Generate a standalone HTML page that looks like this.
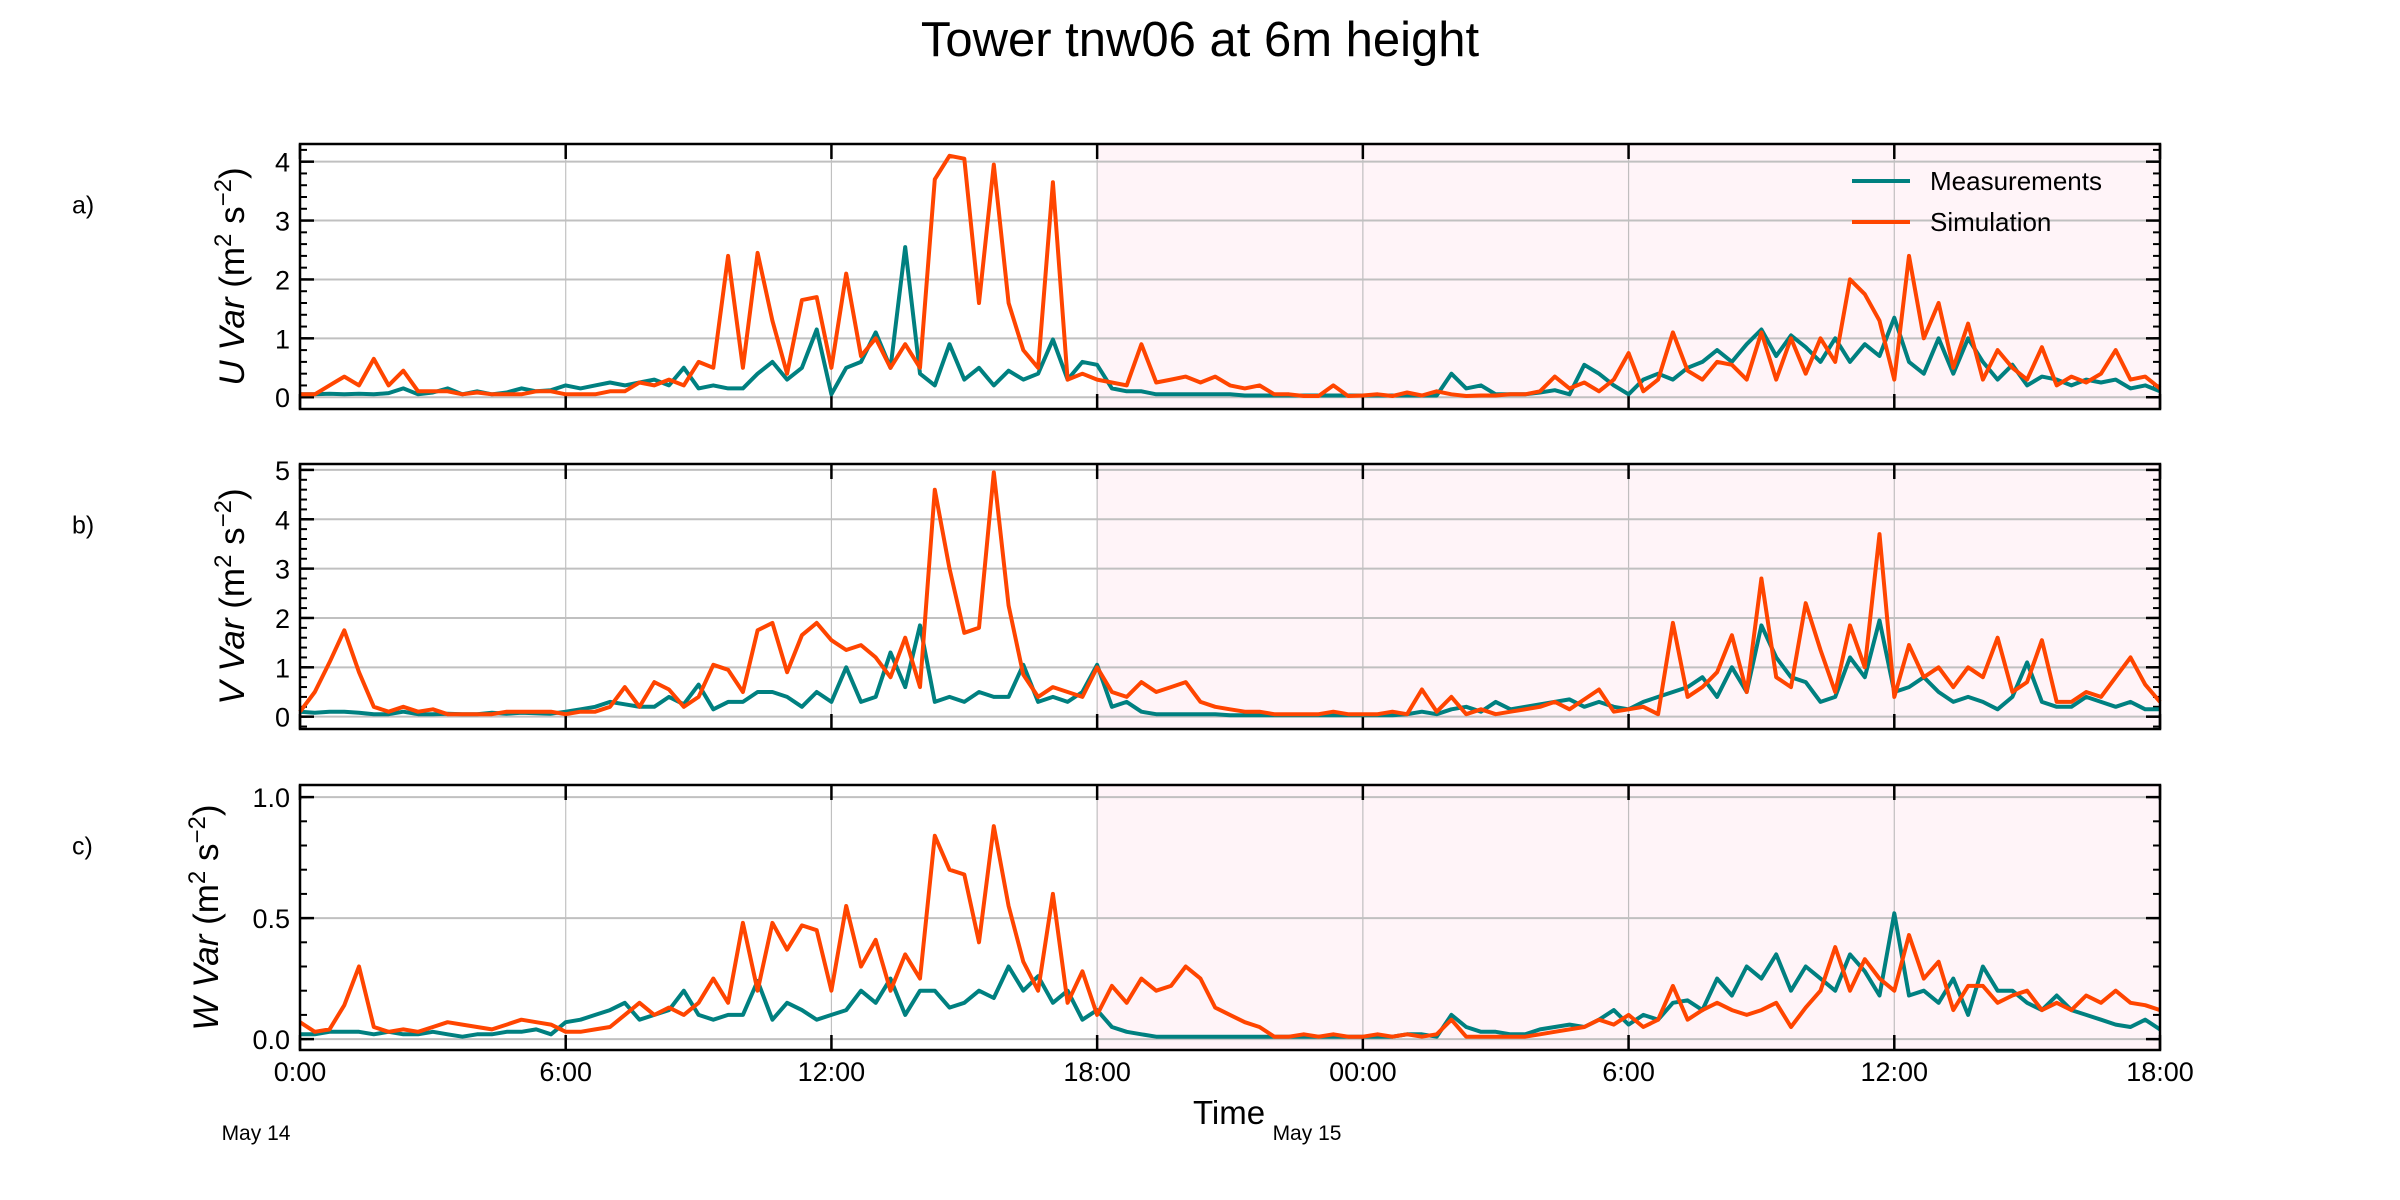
<!DOCTYPE html>
<html><head><meta charset="utf-8"><style>
html,body{margin:0;padding:0;background:#fff}
svg{display:block;font-family:"Liberation Sans","DejaVu Sans",sans-serif}
</style></head><body>
<svg id="chart" width="2400" height="1200" viewBox="0 0 2400 1200" xmlns="http://www.w3.org/2000/svg">
<text x="1200" y="56" font-size="49" text-anchor="middle" fill="#000">Tower tnw06 at 6m height</text>
<g id="plots"></g>
</svg>
<script>
const xTickLabels=["0:00","6:00","12:00","18:00","00:00","6:00","12:00","18:00"];
const xTickHours=[0,6,12,18,24,30,36,42];
const shadeStart=18, shadeEnd=42;
const stepHours=1/3;
const uMeas=[.05,.05,.06,.05,.06,.05,.07,.15,.05,.08,.15,.05,.1,.05,.08,.15,.1,.12,.2,.15,.2,.25,.2,.25,.3,.2,.5,.15,.2,.15,.15,.4,.6,.3,.5,1.15,.05,.5,.6,1.1,.5,2.55,.4,.2,.9,.3,.5,.2,.45,.3,.4,.98,.3,.6,.55,.15,.1,.1,.05,.05,.05,.05,.05,.05,.03,.03,.03,.03,.03,.03,.03,.03,.03,.03,.03,.03,.03,.03,.4,.15,.2,.05,.05,.05,.08,.12,.05,.55,.4,.2,.05,.3,.4,.3,.5,.6,.8,.6,.9,1.15,.7,1.05,.85,.6,1.0,.6,.9,.7,1.35,.6,.4,1.0,.4,1.0,.6,.3,.55,.2,.35,.3,.2,.3,.25,.3,.15,.2,.1];
const uSim=[.05,.05,.2,.35,.2,.65,.2,.45,.1,.1,.1,.05,.08,.05,.05,.05,.1,.1,.05,.05,.05,.1,.1,.25,.2,.3,.2,.6,.5,2.4,.5,2.45,1.3,.4,1.65,1.7,.5,2.1,.7,1.0,.5,.9,.5,3.7,4.1,4.05,1.6,3.95,1.6,.8,.5,3.65,.3,.4,.3,.25,.2,.9,.25,.3,.35,.25,.35,.2,.15,.2,.05,.05,.02,.02,.2,.02,.03,.05,.02,.08,.03,.1,.05,.02,.03,.03,.05,.05,.1,.35,.15,.25,.1,.3,.75,.1,.3,1.1,.45,.3,.6,.55,.3,1.1,.3,1.0,.4,1.0,.6,2.0,1.75,1.3,.3,2.4,1.0,1.6,.5,1.25,.3,.8,.5,.3,.85,.2,.35,.25,.4,.8,.3,.35,.15];
const vMeas=[.1,.08,.1,.1,.08,.05,.05,.1,.05,.05,.06,.05,.05,.08,.06,.08,.07,.06,.1,.15,.2,.3,.25,.2,.2,.4,.25,.65,.15,.3,.3,.5,.5,.4,.2,.5,.3,1.0,.3,.4,1.3,.6,1.85,.3,.4,.3,.5,.4,.4,1.05,.3,.4,.3,.5,1.05,.2,.3,.1,.05,.05,.05,.05,.05,.03,.03,.03,.03,.03,.03,.03,.03,.03,.03,.03,.03,.05,.1,.05,.15,.2,.1,.3,.15,.2,.25,.3,.35,.2,.3,.2,.15,.3,.4,.5,.6,.8,.4,1.0,.5,1.85,1.2,.8,.7,.3,.4,1.2,.8,1.95,.5,.6,.8,.5,.3,.4,.3,.15,.4,1.1,.3,.2,.2,.4,.3,.2,.3,.15,.15];
const vSim=[.1,.5,1.1,1.75,.9,.2,.1,.2,.1,.15,.05,.05,.05,.05,.1,.1,.1,.1,.05,.1,.1,.2,.6,.2,.7,.55,.2,.4,1.05,.95,.5,1.75,1.9,.9,1.65,1.9,1.55,1.35,1.45,1.2,.8,1.6,.6,4.6,3.0,1.7,1.8,4.95,2.25,.85,.4,.6,.5,.4,1.0,.5,.4,.7,.5,.6,.7,.3,.2,.15,.1,.1,.05,.05,.05,.05,.1,.05,.05,.05,.1,.05,.55,.1,.4,.05,.15,.05,.1,.15,.2,.3,.15,.35,.55,.1,.15,.2,.05,1.9,.4,.6,.9,1.65,.5,2.8,.8,.6,2.3,1.35,.5,1.85,1.0,3.7,.4,1.45,.8,1.0,.6,1.0,.8,1.6,.5,.7,1.55,.3,.3,.5,.4,.8,1.2,.65,.3];
const wMeas=[.02,.02,.03,.03,.03,.02,.03,.02,.02,.03,.02,.01,.02,.02,.03,.03,.04,.02,.07,.08,.1,.12,.15,.08,.1,.12,.2,.1,.08,.1,.1,.24,.08,.15,.12,.08,.1,.12,.2,.15,.25,.1,.2,.2,.13,.15,.2,.17,.3,.2,.26,.15,.2,.08,.12,.05,.03,.02,.01,.01,.01,.01,.01,.01,.01,.01,.01,.01,.01,.01,.01,.01,.01,.01,.01,.02,.02,.01,.1,.05,.03,.03,.02,.02,.04,.05,.06,.05,.08,.12,.06,.1,.08,.15,.16,.12,.25,.18,.3,.25,.35,.2,.3,.25,.2,.35,.28,.18,.52,.18,.2,.15,.25,.1,.3,.2,.2,.15,.12,.18,.12,.1,.08,.06,.05,.08,.04];
const wSim=[.07,.03,.04,.14,.3,.05,.03,.04,.03,.05,.07,.06,.05,.04,.06,.08,.07,.06,.03,.03,.04,.05,.1,.15,.1,.13,.1,.15,.25,.15,.48,.2,.48,.37,.47,.45,.2,.55,.3,.41,.2,.35,.25,.84,.7,.68,.4,.88,.55,.32,.2,.6,.15,.28,.1,.22,.15,.25,.2,.22,.3,.25,.13,.1,.07,.05,.01,.01,.02,.01,.02,.01,.01,.02,.01,.02,.01,.02,.08,.01,.01,.01,.01,.01,.02,.03,.04,.05,.08,.06,.1,.05,.08,.22,.08,.12,.15,.12,.1,.12,.15,.05,.13,.2,.38,.2,.33,.25,.2,.43,.25,.32,.12,.22,.22,.15,.18,.2,.12,.15,.12,.18,.15,.2,.15,.14,.12];
const uTicks=[0,1,2,3,4], vTicks=[0,1,2,3,4,5], wTicks=[0,0.5,1.0];
const wTickLabels=["0.0","0.5","1.0"];

const NS="http://www.w3.org/2000/svg";
const root=document.getElementById('plots');
const X0=300,X1=2160;
function xs(h){return X0+(h/42)*(X1-X0);}
function mk(tag,attrs,parent){const e=document.createElementNS(NS,tag);for(const k in attrs)e.setAttribute(k,attrs[k]);(parent||root).appendChild(e);return e;}

const panels=[
 {id:'u',letter:'a)',top:144,bot:409,ymin:-0.2,ymax:4.3,ticks:uTicks,labels:uTicks.map(String),minor:0.2,meas:uMeas,sim:uSim,lab:'U Var',legend:true,labx:244},
 {id:'v',letter:'b)',top:464,bot:729,ymin:-0.25,ymax:5.12,ticks:vTicks,labels:vTicks.map(String),minor:0.2,meas:vMeas,sim:vSim,lab:'V Var',legend:false,labx:244},
 {id:'w',letter:'c)',top:785,bot:1050,ymin:-0.045,ymax:1.05,ticks:wTicks,labels:wTickLabels,minor:0.1,meas:wMeas,sim:wSim,lab:'W Var',legend:false,labx:218}
];
panels.forEach(p=>{
 const g=mk('g',{});
 
 
 const ys=v=>p.bot-(v-p.ymin)/(p.ymax-p.ymin)*(p.bot-p.top);
 const sh=mk('rect',{x:xs(shadeStart),y:p.top,width:xs(shadeEnd)-xs(shadeStart),height:p.bot-p.top,fill:'#fff4f8'},g);
 
 
 xTickHours.forEach(h=>{const l=mk('line',{x1:xs(h),x2:xs(h),y1:p.top,y2:p.bot,stroke:'#b0b0b0','stroke-width':1.2,'stroke-opacity':0.8},g);
  
  });
 p.ticks.forEach((t,i)=>{const y=ys(t);
  const l=mk('line',{x1:X0,x2:X1,y1:y,y2:y,stroke:'#c0c0c0','stroke-width':2},g);
  
  
  mk('line',{x1:X0,x2:X0+14,y1:y,y2:y,stroke:'#000','stroke-width':2.5},g);
  mk('line',{x1:X1,x2:X1-14,y1:y,y2:y,stroke:'#000','stroke-width':2.5},g);
  const tx=mk('text',{x:X0-10,y:y+10,'font-size':27,'text-anchor':'end',fill:'#000'},g);tx.textContent=p.labels[i];
  
  });
 for(let v=Math.ceil(p.ymin/p.minor)*p.minor;v<=p.ymax;v+=p.minor){const y=ys(v);
  mk('line',{x1:X0,x2:X0+7,y1:y,y2:y,stroke:'#000','stroke-width':2},g);
  mk('line',{x1:X1,x2:X1-7,y1:y,y2:y,stroke:'#000','stroke-width':2},g);}
 xTickHours.forEach(h=>{
  mk('line',{x1:xs(h),x2:xs(h),y1:p.bot,y2:p.bot-15,stroke:'#000','stroke-width':2.5},g);
  mk('line',{x1:xs(h),x2:xs(h),y1:p.top,y2:p.top+15,stroke:'#000','stroke-width':2.5},g);});
 [['meas','#008080','measurements-line'],['sim','#ff4500','simulation-line']].forEach(([k,c,n])=>{
  const pts=p[k].map((v,i)=>xs(i*stepHours).toFixed(1)+','+ys(v).toFixed(1)).join(' ');
  const pl=mk('polyline',{points:pts,fill:'none',stroke:c,'stroke-width':4,'stroke-linejoin':'round'},g);
  
  });
 const fr=mk('rect',{x:X0,y:p.top,width:X1-X0,height:p.bot-p.top,fill:'none',stroke:'#000','stroke-width':2.5},g);
 
 
 const lt=mk('text',{x:72,y:(p.top+p.bot)/2-63,'font-size':25,fill:'#000'},g);lt.textContent=p.letter;
 
 
 const cy=(p.top+p.bot)/2, cx=p.labx;
 const yl=mk('text',{x:cx,y:cy,'font-size':35,'text-anchor':'middle',fill:'#000',transform:`rotate(-90 ${cx} ${cy})`},g);
 
 
 yl.innerHTML=`<tspan font-style="italic">${p.lab}</tspan> (m<tspan dy="-13" font-size="24">2</tspan><tspan dy="13"> s</tspan><tspan dy="-13" font-size="24">−2</tspan><tspan dy="13">)</tspan>`;
 if(p.legend){
  const lg=mk('g',{},g);
  
  
  [['Measurements','#008080',181],['Simulation','#ff4500',222]].forEach(([t,c,y])=>{
   const e=mk('g',{},lg);
   
   
   mk('line',{x1:1852,x2:1910,y1:y,y2:y,stroke:c,'stroke-width':4},e);
   const tt=mk('text',{x:1930,y:y+9,'font-size':26,fill:'#000'},e);tt.textContent=t;});
 }
 if(p.id==='w'){
  xTickLabels.forEach((t,i)=>{const tx=mk('text',{x:xs(xTickHours[i]),y:1081,'font-size':27,'text-anchor':'middle',fill:'#000'},g);tx.textContent=t;
   
   });
 }
});
function addText(x,y,s,t,n){const e=mk('text',{x:x,y:y,'font-size':s,'text-anchor':'middle',fill:'#000'});e.textContent=t;
 
 }
addText(1229,1124,33,'Time','x-axis-title');
addText(256,1140,21,'May 14','date-label-may14');
addText(1307,1140,21,'May 15','date-label-may15');
</script>
</body></html>
